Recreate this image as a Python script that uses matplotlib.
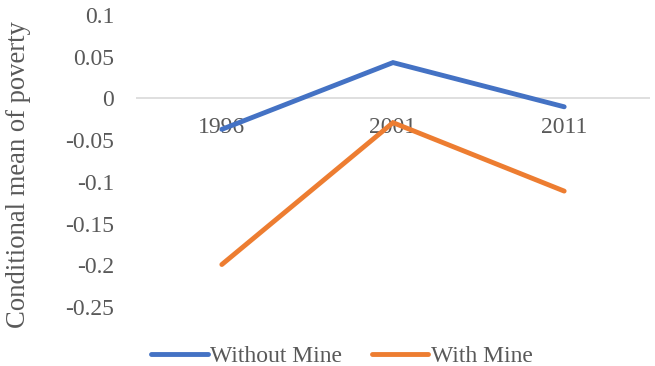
import matplotlib
matplotlib.use("Agg")
from matplotlib import pyplot as plt
from matplotlib import transforms

years = ["1996", "2001", "2011"]
without_mine = [-0.037, 0.043, -0.010]
with_mine = [-0.199, -0.029, -0.111]
yticks = [0.1, 0.05, 0, -0.05, -0.1, -0.15, -0.2, -0.25]

plt.rcParams['font.family'] = ['Liberation Serif', 'DejaVu Serif']
txt = '#595959'

fig = plt.figure(figsize=(6.55, 3.66), dpi=100)
ax = fig.add_axes([0.208, 0.161, 0.784, 0.798])

x = list(range(len(years)))
ax.plot(x, without_mine, color='#4472C4', lw=3.5, solid_capstyle='round', solid_joinstyle='miter', label='Without Mine', zorder=3)
ax.plot(x, with_mine, color='#ED7D31', lw=3.5, solid_capstyle='round', solid_joinstyle='miter', label='With Mine', zorder=3)

ax.axhline(0, color='#d9d9d9', lw=1.2, zorder=1)
ax.set_xlim(-0.5, 2.5)
ax.set_ylim(-0.25, 0.1)
ax.set_yticks(yticks)
ax.set_yticklabels([f"{v:g}" for v in yticks], fontsize=17, color=txt)
ax.tick_params(axis='y', length=0, pad=16)
ax.set_xticks([])
for s in ax.spines.values():
    s.set_visible(False)

# category labels sit just under the zero line, like Excel
off = transforms.offset_copy(ax.transData, fig=fig, x=0, y=-13, units='points')
for i, lab in enumerate(years):
    ax.text(i, 0, lab, transform=off, ha='center', va='top', fontsize=17, color=txt, zorder=2)

ax.set_ylabel('Conditional mean of poverty', fontsize=19.2, color=txt)
ax.yaxis.set_label_coords(-0.205, 0.455)

fig.legend(loc='center', bbox_to_anchor=(0.522, 0.027), ncol=2, frameon=False,
           fontsize=17, labelcolor=txt, handlelength=2.4, handletextpad=0.1, columnspacing=1.25)

fig.savefig('out.png', dpi=100)
plt.close()
